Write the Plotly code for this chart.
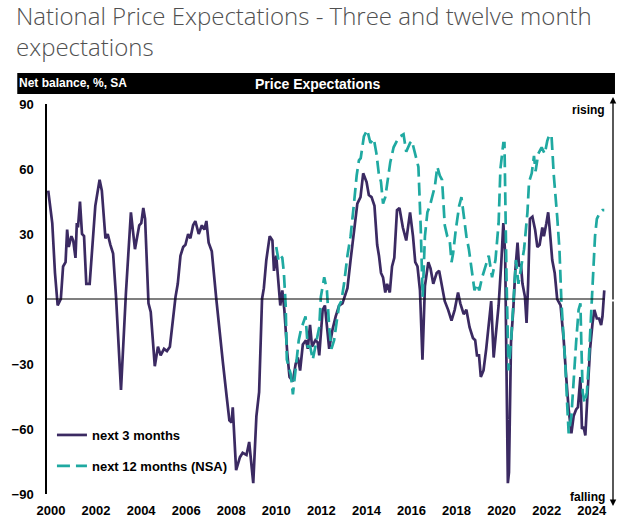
import plotly.graph_objects as go

# next 3 months (SA) - net balance %
t3 = [2000.01, 2000.19, 2000.31, 2000.43, 2000.57, 2000.67, 2000.78, 2000.85, 2000.92, 2001.04,
      2001.12, 2001.22, 2001.28, 2001.33, 2001.42, 2001.51, 2001.60, 2001.70, 2001.85, 2002.10,
      2002.29, 2002.39, 2002.55, 2002.65, 2002.77, 2002.89, 2003.02, 2003.24, 2003.46, 2003.68,
      2003.86, 2004.05, 2004.14, 2004.23, 2004.31, 2004.41, 2004.46, 2004.56, 2004.74, 2004.88,
      2005.00, 2005.15, 2005.28, 2005.41, 2005.56, 2005.66, 2005.76, 2005.88, 2006.00, 2006.10,
      2006.22, 2006.32, 2006.44, 2006.54, 2006.69, 2006.83, 2006.94, 2007.03, 2007.13, 2007.27,
      2007.47, 2007.61, 2007.76, 2007.93, 2008.05, 2008.15, 2008.20, 2008.35, 2008.52, 2008.64,
      2008.81, 2008.93, 2009.11, 2009.25, 2009.37, 2009.50, 2009.58, 2009.69, 2009.84, 2009.96,
      2010.03, 2010.13, 2010.24, 2010.31, 2010.40, 2010.49, 2010.62, 2010.72, 2010.87, 2010.99,
      2011.09, 2011.19, 2011.31, 2011.45, 2011.53, 2011.63, 2011.72, 2011.87, 2011.97, 2012.04,
      2012.19, 2012.29, 2012.48, 2012.63, 2012.77, 2012.92, 2013.07, 2013.21, 2013.29, 2013.43,
      2013.58, 2013.73, 2013.87, 2013.99, 2014.14, 2014.24, 2014.36, 2014.49, 2014.61, 2014.69,
      2014.78, 2014.87, 2014.97, 2015.05, 2015.17, 2015.27, 2015.37, 2015.49, 2015.60, 2015.75,
      2015.90, 2016.07, 2016.20, 2016.30, 2016.40, 2016.51, 2016.62, 2016.73, 2016.88, 2016.98,
      2017.10, 2017.25, 2017.36, 2017.51, 2017.61, 2017.76, 2017.91, 2018.05, 2018.20, 2018.30,
      2018.45, 2018.57, 2018.71, 2018.86, 2018.96, 2019.04, 2019.13, 2019.21, 2019.33, 2019.45,
      2019.67, 2019.78, 2019.89, 2020.00, 2020.12, 2020.21, 2020.29, 2020.36, 2020.41, 2020.46,
      2020.55, 2020.65, 2020.74, 2020.84, 2020.91, 2020.99, 2021.06, 2021.17, 2021.24, 2021.31,
      2021.39, 2021.50, 2021.62, 2021.72, 2021.82, 2021.94, 2022.01, 2022.12, 2022.20, 2022.27,
      2022.38, 2022.49, 2022.60, 2022.75, 2022.89, 2023.00, 2023.11, 2023.23, 2023.33, 2023.44,
      2023.52, 2023.63, 2023.70, 2023.77, 2023.85, 2023.95, 2024.06, 2024.17, 2024.25, 2024.36,
      2024.46, 2024.55, 2024.61, 2024.69]
v3 = [50, 35, 12, -3, 0, 15, 17, 32, 24, 29,
      27, 19, 35, 33, 45, 30, 29, 7, 7, 43,
      55, 50, 28, 30, 25, 21, 1, -42, 3, 40,
      23, 34, 35, 42, 37, 7, -2, -6, -31, -22,
      -26, -23, -24, -22, -8, 1, 7, 20, 24, 25,
      30, 28, 34, 36, 30, 34, 32, 36, 26, 22,
      0, -15, -29, -45, -56, -57, -50, -79, -73, -71,
      -72, -66, -85, -54, -43, 0, 5, 18, 29, 27,
      13, 20, 4, -3, 4, -5, -25, -36, -38, -30,
      -27, -33, -21, -19, -23, -12, -22, -19, -20, -26,
      -5, -3, -23, -14, -8, -3, -2, 3, 5, 18,
      32, 44, 47, 58, 54, 48, 47, 43, 25, 20,
      12, 10, 3, 7, 3, 15, 19, 41, 42, 33,
      27, 40, 29, 17, 15, 4, -28, 6, 17, 14,
      7, 12, 13, 4, -1, -5, -10, -5, 3, -2,
      -7, -5, -13, -18, -19, -26, -26, -36, -33, -23,
      -1, -27, -16, -3, 17, 35, 21, -34, -85, -80,
      -20, -5, 13, 26, 15, 16, 7, 1, -11, 7,
      37, 38, 32, 24, 25, 33, 29, 35, 40, 32,
      18, 12, 0, -3, -19, -36, -51, -62, -54, -51,
      -50, -36, -60, -59, -63, -43, -23, -11, -5, -9,
      -9, -12, -8, 4]

# next 12 months (NSA) - net balance %
t12 = [2010.13, 2010.23, 2010.32, 2010.40, 2010.47, 2010.55, 2010.60, 2010.69, 2010.78, 2010.87,
       2010.94, 2011.04, 2011.13, 2011.23, 2011.34, 2011.43, 2011.53, 2011.64, 2011.75, 2011.87,
       2012.04, 2012.11, 2012.26, 2012.38, 2012.48, 2012.58, 2012.70, 2012.82, 2012.92, 2013.02,
       2013.14, 2013.29, 2013.43, 2013.58, 2013.70, 2013.80, 2013.88, 2014.02, 2014.17, 2014.31,
       2014.46, 2014.58, 2014.68, 2014.78, 2014.87, 2014.97, 2015.08, 2015.19, 2015.34, 2015.49,
       2015.63, 2015.78, 2015.90, 2016.07, 2016.15, 2016.25, 2016.30, 2016.44, 2016.54, 2016.63,
       2016.73, 2016.84, 2016.95, 2017.03, 2017.17, 2017.28, 2017.39, 2017.49, 2017.61, 2017.72,
       2017.83, 2017.91, 2017.98, 2018.10, 2018.25, 2018.35, 2018.45, 2018.57, 2018.68, 2018.83,
       2018.93, 2019.04, 2019.14, 2019.27, 2019.42, 2019.56, 2019.71, 2019.86, 2020.00, 2020.08,
       2020.21, 2020.26, 2020.35, 2020.44, 2020.55, 2020.65, 2020.77, 2020.88, 2020.99, 2021.13,
       2021.28, 2021.35, 2021.47, 2021.57, 2021.64, 2021.76, 2021.91, 2022.05, 2022.16, 2022.26,
       2022.35, 2022.45, 2022.60, 2022.70, 2022.79, 2022.89, 2022.96, 2023.04, 2023.11, 2023.23,
       2023.33, 2023.44, 2023.55, 2023.63, 2023.67, 2023.73, 2023.82, 2023.92, 2023.99, 2024.11,
       2024.18, 2024.28, 2024.36, 2024.50, 2024.61, 2024.69]
v12 = [24, 18, 20, 19, 12, -3, -28, -31, -35, -44,
       -37, -27, -19, -14, -11, -8, -22, -22, -28, -22,
       -13, 1, 10, 4, -13, -23, -19, -10, -3, -1,
       7, 20, 29, 44, 57, 64, 65, 75, 78, 72,
       74, 67, 58, 54, 44, 47, 54, 63, 70, 73,
       75, 76, 68, 72, 73, 69, 66, 61, 34, 1,
       29, 40, 43, 46, 52, 61, 57, 55, 34, 29,
       27, 17, 21, 32, 43, 47, 38, 29, 23, 10,
       4, 7, 4, 10, 15, 20, 10, 18, 35, 60,
       72, 72, 10, -33, -20, -2, 18, 7, 14, 23,
       40, 54, 58, 66, 59, 67, 70, 67, 73, 76,
       75, 57, 38, 23, -2, -17, -30, -48, -62, -54,
       -36, -20, -5, -2, -20, -43, -48, -43, -31, -8,
       10, 29, 37, 40, 41, 41]

years = [2000, 2002, 2004, 2006, 2008, 2010, 2012, 2014, 2016, 2018, 2020, 2022, 2024]
year_labels = [str(y) for y in years]
y_ticks = [-90, -60, -30, 0, 30, 60, 90]

PURPLE = "#3b2a62"
TEAL = "#1fa9a1"
NARROW = "Liberation Sans Narrow, Arial Narrow, Liberation Sans, Arial, sans-serif"

# pixel helpers for paper coordinates (plot area: x 42..613, y 104..494)
L, R, T, B = 42, 613, 104, 494
def px(x):
    return (x - L) / (R - L)
def py(y):
    return (B - y) / (B - T)

fig = go.Figure()
fig.add_trace(go.Scatter(x=t3, y=v3, mode="lines", name="next 3 months",
                         line=dict(color=PURPLE, width=2.7), legendgroup="a"))
fig.add_trace(go.Scatter(x=t12, y=v12, mode="lines", name="next 12 months (NSA)",
                         line=dict(color=TEAL, width=2.7, dash="13px,6px"), legendgroup="b"))

fig.update_layout(
    width=634, height=532, autosize=False,
    margin=dict(l=L, r=634 - R, t=T, b=532 - B, pad=0),
    paper_bgcolor="white", plot_bgcolor="white",
    showlegend=True,
    legend=dict(x=px(47), y=py(420), xanchor="left", yanchor="top",
                bgcolor="rgba(0,0,0,0)", traceorder="grouped", tracegroupgap=11,
                font=dict(family=NARROW, size=13, color="black", weight="bold")),
    xaxis=dict(range=[1999.956, 2025.077], tickmode="array", tickvals=years, ticktext=year_labels,
               showgrid=False, zeroline=False, showline=False, ticks="",
               ticklabelshift=3, ticklabelstandoff=7,
               tickfont=dict(family=NARROW, size=13, color="black", weight="bold")),
    yaxis=dict(range=[-90, 90], tickmode="array", tickvals=y_ticks,
               showgrid=False, zeroline=False, showline=True, linecolor="black", linewidth=1.5,
               ticks="", ticklabelstandoff=9,
               tickfont=dict(family=NARROW, size=13, color="black", weight="bold")),
)

# zero line
fig.add_shape(type="line", xref="x", yref="y", x0=1999.956, x1=2024.7, y0=0, y1=0,
              line=dict(color="black", width=1.2))
# black header bar
fig.add_shape(type="rect", xref="paper", yref="paper", x0=px(12), x1=px(615), y0=py(94), y1=py(73),
              fillcolor="black", line=dict(width=0), layer="above")

TITLE_FONT = dict(family="Open Sans", size=24, color="#505050", weight=300)
ann = []
ann.append(dict(text="National Price Expectations - Three and twelve month<br>expectations",
                xref="paper", yref="paper", x=px(9), y=py(30.5), xanchor="left", yanchor="middle",
                align="left", showarrow=False, font=TITLE_FONT))
ann.append(dict(text="Net balance, %, SA", xref="paper", yref="paper", x=px(12), y=py(83.5),
                xanchor="left", yanchor="middle", showarrow=False,
                font=dict(family=NARROW, size=12, color="white", weight="bold")))
ann.append(dict(text="Price Expectations", xref="paper", yref="paper", x=px(315), y=py(84),
                xanchor="center", yanchor="middle", showarrow=False,
                font=dict(family=NARROW, size=14, color="white", weight="bold")))
ann.append(dict(text="rising", xref="paper", yref="paper", x=px(607), y=py(110),
                xanchor="right", yanchor="middle", showarrow=False,
                font=dict(family=NARROW, size=12, color="black", weight="bold")))
ann.append(dict(text="falling", xref="paper", yref="paper", x=px(607), y=py(497),
                xanchor="right", yanchor="middle", showarrow=False,
                font=dict(family=NARROW, size=12, color="black", weight="bold")))
# right-hand rising/falling arrow axis
ann.append(dict(text="", xref="paper", yref="paper", x=px(613), y=py(97), ax=0, ay=204,
                showarrow=True, arrowhead=2, arrowsize=1, arrowwidth=1.3, arrowcolor="black"))
ann.append(dict(text="", xref="paper", yref="paper", x=px(613), y=py(506), ax=0, ay=-206,
                showarrow=True, arrowhead=2, arrowsize=1, arrowwidth=1.3, arrowcolor="black"))
fig.update_layout(annotations=ann)

fig.write_html("out.html", config={"displayModeBar": False},
               post_script="document.body.style.margin='0';")
